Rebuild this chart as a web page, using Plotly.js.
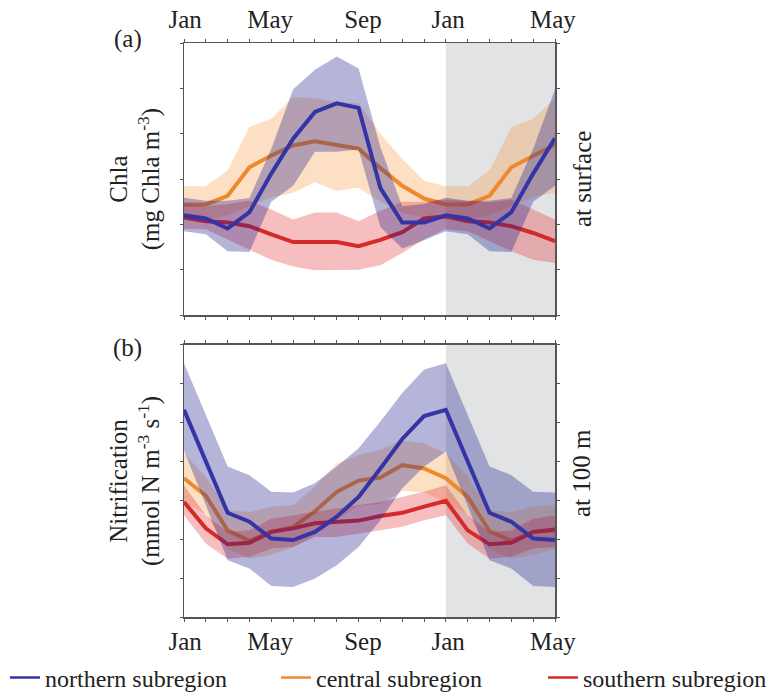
<!DOCTYPE html>
<html>
<head>
<meta charset="utf-8">
<script src="https://cdn.plot.ly/plotly-3.0.1.min.js"></script>
<style>
  html, body { margin: 0; padding: 0; background: #ffffff; }
  #chart { width: 769px; height: 698px; }
</style>
</head>
<body>
<div id="chart"></div>
<script>
// ---------- data (month index 0..17, Jan .. next year) ----------
var monthIndex = [0, 1, 2, 3, 4, 5, 6, 7, 8, 9, 10, 11, 12, 13, 14, 15, 16, 17];
var tickLabelPos = [0.05, 3.95, 8.2, 12.1, 16.9];
var tickLabelText = ['Jan', 'May', 'Sep', 'Jan', 'May'];
var shadedMonths = [12, 17];

var seriesNames = ['northern subregion', 'central subregion', 'southern subregion'];

// (a) Chla at surface
var chlaNorth   = [2.20, 2.13, 1.91, 2.27, 3.12, 3.89, 4.48, 4.67, 4.57, 2.80, 2.04, 2.04, 2.20, 2.13, 1.91, 2.27, 3.12, 3.90];
var chlaNorthHi = [2.59, 2.52, 2.52, 2.58, 3.67, 4.98, 5.41, 5.70, 5.44, 3.70, 2.40, 2.45, 2.59, 2.52, 2.52, 2.58, 3.67, 4.98];
var chlaNorthLo = [1.85, 1.78, 1.41, 1.39, 2.50, 2.85, 3.60, 3.60, 3.65, 1.94, 1.47, 1.65, 1.85, 1.78, 1.41, 1.39, 2.50, 2.85];

var chlaCentral   = [2.44, 2.44, 2.63, 3.26, 3.52, 3.74, 3.83, 3.74, 3.67, 3.24, 2.85, 2.57, 2.44, 2.44, 2.63, 3.26, 3.52, 3.76];
var chlaCentralHi = [2.84, 2.84, 3.19, 4.15, 4.33, 4.81, 4.78, 4.70, 4.67, 4.00, 3.44, 2.96, 2.84, 2.84, 3.19, 4.15, 4.33, 4.78];
var chlaCentralLo = [2.10, 2.10, 2.20, 2.40, 2.60, 2.70, 2.93, 2.74, 2.81, 2.50, 2.25, 2.15, 2.10, 2.10, 2.20, 2.40, 2.60, 2.70];

var chlaSouth   = [2.15, 2.07, 2.04, 1.96, 1.78, 1.61, 1.61, 1.61, 1.52, 1.66, 1.83, 2.13, 2.18, 2.07, 2.04, 1.96, 1.81, 1.63];
var chlaSouthHi = [2.45, 2.40, 2.45, 2.52, 2.33, 2.11, 2.26, 2.26, 2.07, 2.30, 2.50, 2.50, 2.55, 2.52, 2.48, 2.55, 2.33, 2.11];
var chlaSouthLo = [1.90, 1.89, 1.67, 1.44, 1.22, 1.07, 0.99, 0.99, 1.00, 1.10, 1.37, 1.67, 1.89, 1.85, 1.63, 1.41, 1.22, 1.15];

// (b) Nitrification at 100 m
var nitNorth   = [5.33, 4.00, 2.68, 2.45, 2.02, 1.98, 2.19, 2.58, 3.09, 3.82, 4.58, 5.17, 5.33, 4.00, 2.68, 2.45, 2.02, 1.98];
var nitNorthHi = [6.53, 5.20, 3.87, 3.65, 3.22, 3.20, 3.44, 3.87, 4.34, 5.03, 5.76, 6.37, 6.53, 5.20, 3.87, 3.65, 3.22, 3.20];
var nitNorthLo = [4.28, 2.88, 1.46, 1.25, 0.80, 0.77, 0.99, 1.33, 1.80, 2.49, 3.31, 3.87, 4.25, 2.88, 1.46, 1.25, 0.80, 0.77];

var nitCentral   = [3.57, 3.12, 2.23, 1.96, 2.19, 2.32, 2.72, 3.22, 3.51, 3.59, 3.91, 3.82, 3.57, 3.09, 2.21, 1.96, 2.19, 2.23];
var nitCentralHi = [4.21, 3.61, 2.75, 2.70, 2.84, 2.88, 3.35, 3.95, 4.17, 4.30, 4.55, 4.47, 4.21, 3.61, 2.75, 2.70, 2.84, 2.88];
var nitCentralLo = [2.95, 2.65, 1.75, 1.50, 1.60, 1.80, 2.10, 2.50, 2.85, 2.90, 3.25, 3.20, 2.95, 2.65, 1.75, 1.50, 1.60, 1.75];

var nitSouth   = [2.96, 2.28, 1.87, 1.91, 2.19, 2.28, 2.41, 2.45, 2.48, 2.60, 2.68, 2.84, 2.99, 2.23, 1.87, 1.91, 2.19, 2.25];
var nitSouthHi = [3.39, 2.62, 2.19, 2.23, 2.53, 2.62, 2.71, 2.79, 2.88, 2.96, 3.09, 3.22, 3.39, 2.62, 2.19, 2.23, 2.53, 2.62];
var nitSouthLo = [2.62, 1.89, 1.50, 1.55, 1.76, 1.80, 2.06, 2.06, 2.15, 2.23, 2.32, 2.49, 2.62, 1.89, 1.50, 1.55, 1.76, 1.80];

// ---------- styles ----------
// index order: 0 northern (blue), 1 central (orange), 2 southern (red)
var lineColors = ['#3434a6', '#ee8a2e', '#d62a2a'];
var bandColors = ['rgba(30,30,140,0.33)', 'rgba(250,150,60,0.30)', 'rgba(225,40,40,0.30)'];
var drawOrder = [1, 2, 0];   // orange, red, then blue on top
var FONT = 'Liberation Serif, Times New Roman, serif';

function lineTrace(y, k, xa, ya) {
  return { x: monthIndex, y: y, type: 'scatter', mode: 'lines', xaxis: xa, yaxis: ya,
           line: { color: lineColors[k], width: 4 }, showlegend: false, hoverinfo: 'skip' };
}
function bandTrace(hi, lo, k, xa, ya) {
  var xs = monthIndex.concat(monthIndex.slice().reverse());
  var ys = hi.concat(lo.slice().reverse());
  return { x: xs, y: ys, type: 'scatter', mode: 'lines', fill: 'toself', xaxis: xa, yaxis: ya,
           fillcolor: bandColors[k], line: { width: 0, color: 'rgba(0,0,0,0)' },
           showlegend: false, hoverinfo: 'skip' };
}

var chlaSets = [[chlaNorth, chlaNorthHi, chlaNorthLo], [chlaCentral, chlaCentralHi, chlaCentralLo], [chlaSouth, chlaSouthHi, chlaSouthLo]];
var nitSets = [[nitNorth, nitNorthHi, nitNorthLo], [nitCentral, nitCentralHi, nitCentralLo], [nitSouth, nitSouthHi, nitSouthLo]];

var traces = [];
drawOrder.forEach(function (k) {
  traces.push(bandTrace(chlaSets[k][1], chlaSets[k][2], k, 'x', 'y'));
  traces.push(lineTrace(chlaSets[k][0], k, 'x', 'y'));
});
drawOrder.forEach(function (k) {
  traces.push(bandTrace(nitSets[k][1], nitSets[k][2], k, 'x2', 'y2'));
  traces.push(lineTrace(nitSets[k][0], k, 'x2', 'y2'));
});
// legend entries (one small legend each)
var legendIds = ['legend', 'legend2', 'legend3'];
for (var k = 0; k < 3; k++) {
  traces.push({ x: [null], y: [null], type: 'scatter', mode: 'lines', xaxis: 'x2', yaxis: 'y2',
                name: seriesNames[k], legend: legendIds[k],
                line: { color: lineColors[k], width: 2.5 }, showlegend: true });
}

function xAxis(anchor, side, standoff) {
  return {
    anchor: anchor, side: side, domain: [0, 1], range: [monthIndex[0], monthIndex[monthIndex.length - 1]],
    tickmode: 'array', tickvals: tickLabelPos, ticktext: tickLabelText,
    ticks: '', ticklabelstandoff: standoff,
    minor: { tickmode: 'array', tickvals: monthIndex, ticks: 'outside', ticklen: 3, tickwidth: 1, tickcolor: '#555', showgrid: false },
    showline: true, linecolor: '#555', linewidth: 1.5, mirror: 'allticks',
    showgrid: false, zeroline: false, fixedrange: true,
    tickfont: { family: FONT, size: 25, color: '#222' }
  };
}
function yAxis(anchor, domain, maxv, title) {
  return {
    anchor: anchor, domain: domain, range: [0, maxv], tickmode: 'linear', tick0: 0, dtick: 1,
    ticks: 'outside', ticklen: 3, tickwidth: 1, tickcolor: '#555', showticklabels: false,
    showline: true, linecolor: '#555', linewidth: 1.5, mirror: 'allticks',
    showgrid: false, zeroline: false, fixedrange: true,
    title: { text: title, font: { family: FONT, size: 25, color: '#222' }, standoff: 12 }
  };
}
function legendBox(xpx) {
  return {
    orientation: 'h', x: (xpx - 184) / 371, xanchor: 'left', y: -0.106, yanchor: 'middle',
    bgcolor: 'rgba(0,0,0,0)', borderwidth: 0,
    font: { family: FONT, size: 24, color: '#222' }, itemclick: false, itemdoubleclick: false
  };
}

var layout = {
  width: 769, height: 698,
  margin: { l: 184, r: 214, t: 43, b: 81, pad: 0, autoexpand: false },
  paper_bgcolor: '#ffffff', plot_bgcolor: '#ffffff',
  font: { family: FONT, size: 25, color: '#222' },
  xaxis: xAxis('y', 'top', 4),
  yaxis: yAxis('x', [0.526, 1], 6, 'Chla<br>(mg Chla m<sup>-3</sup>)'),
  xaxis2: xAxis('y2', 'bottom', 1),
  yaxis2: yAxis('x2', [0, 0.474], 7, 'Nitrification<br>(mmol N m<sup>-3</sup> s<sup>-1</sup>)'),
  shapes: [
    { type: 'rect', xref: 'x', yref: 'y domain', x0: shadedMonths[0], x1: shadedMonths[1], y0: 0, y1: 1,
      fillcolor: '#e2e3e5', line: { width: 0 }, layer: 'below' },
    { type: 'rect', xref: 'x2', yref: 'y2 domain', x0: shadedMonths[0], x1: shadedMonths[1], y0: 0, y1: 1,
      fillcolor: '#e2e3e5', line: { width: 0 }, layer: 'below' }
  ],
  annotations: [
    { text: '(a)', xref: 'paper', yref: 'paper', x: -0.151, y: 1.007, xanchor: 'center', yanchor: 'middle',
      showarrow: false, font: { family: FONT, size: 25, color: '#222' } },
    { text: '(b)', xref: 'paper', yref: 'paper', x: -0.151, y: 0.469, xanchor: 'center', yanchor: 'middle',
      showarrow: false, font: { family: FONT, size: 25, color: '#222' } },
    { text: 'at surface', xref: 'paper', yref: 'paper', x: 1.073, y: 0.763, xanchor: 'center', yanchor: 'middle',
      textangle: -90, showarrow: false, font: { family: FONT, size: 25, color: '#222' } },
    { text: 'at 100 m', xref: 'paper', yref: 'paper', x: 1.073, y: 0.251, xanchor: 'center', yanchor: 'middle',
      textangle: -90, showarrow: false, font: { family: FONT, size: 25, color: '#222' } }
  ],
  showlegend: true,
  legend: legendBox(5),
  legend2: legendBox(276),
  legend3: legendBox(543)
};

Plotly.newPlot('chart', traces, layout, { staticPlot: true, displayModeBar: false });
</script>
</body>
</html>
